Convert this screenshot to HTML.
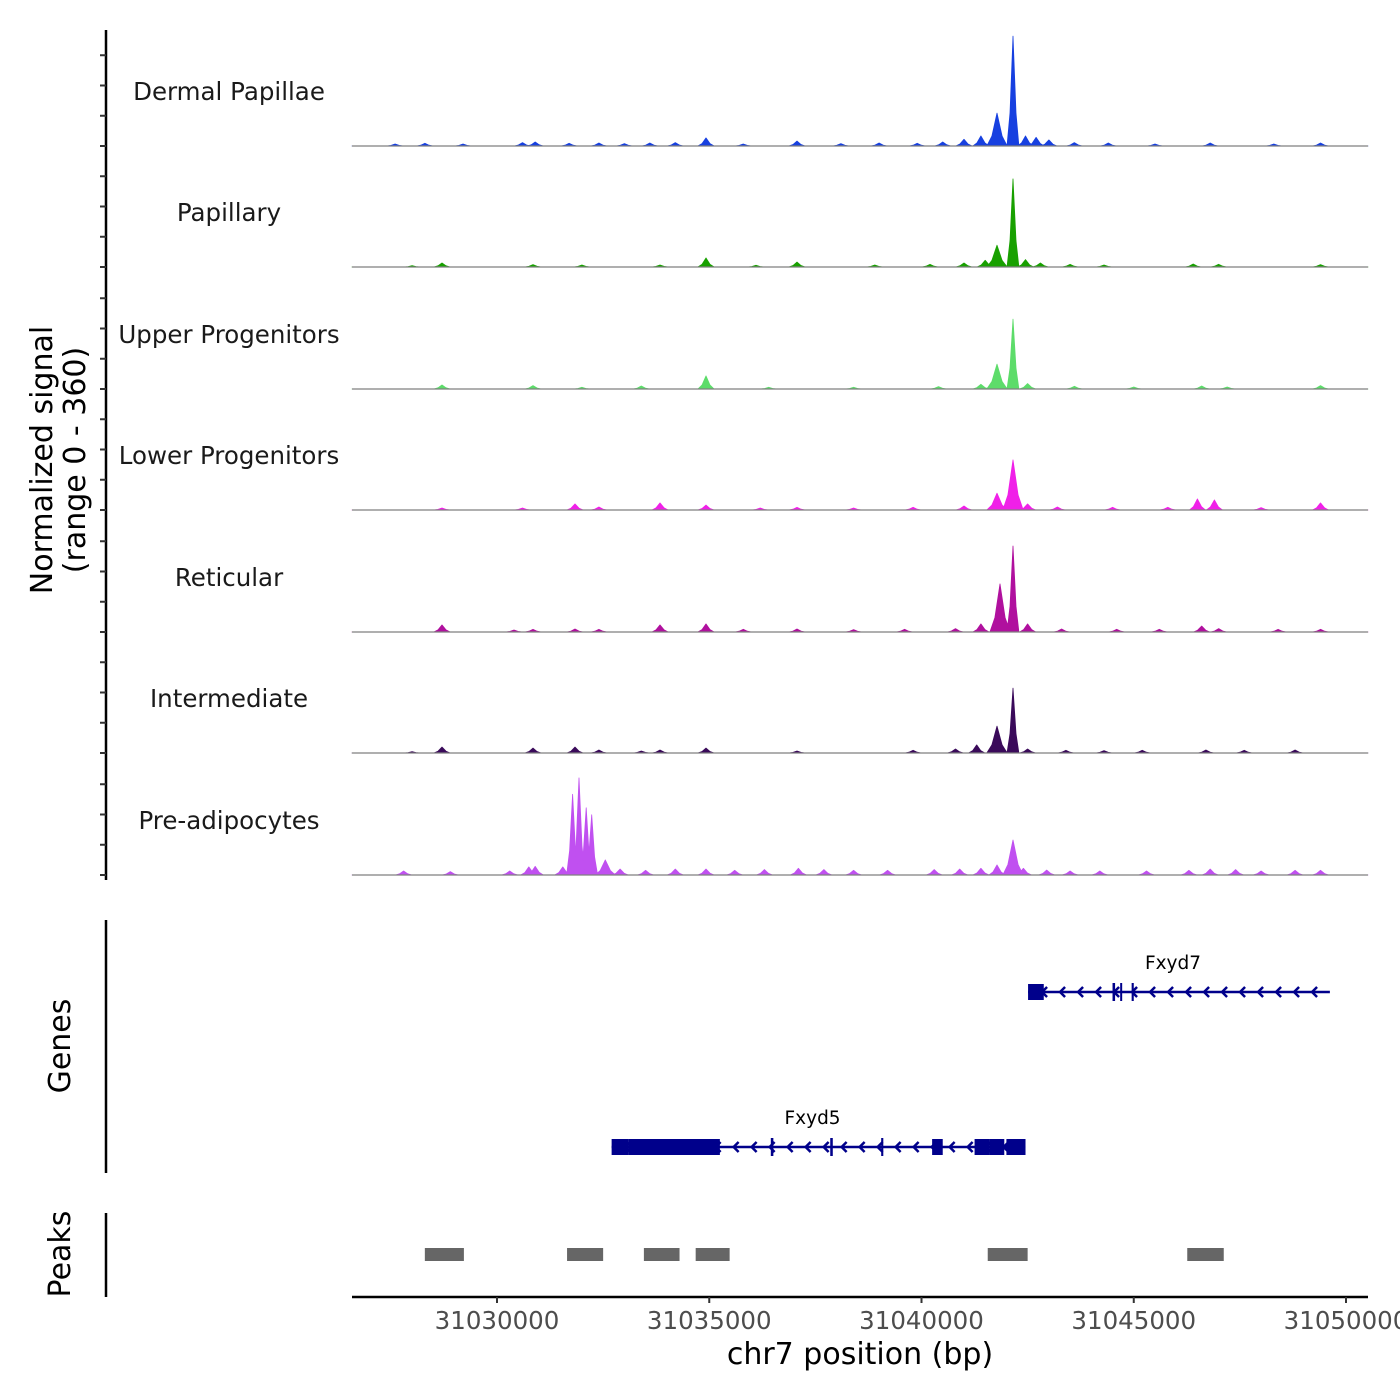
<!DOCTYPE html>
<html><head><meta charset="utf-8"><style>
html,body{margin:0;padding:0;background:#fff}
svg{display:block;font-family:"DejaVu Sans","Liberation Sans",sans-serif}
</style></head><body>
<svg id="chart" width="1400" height="1400" xmlns="http://www.w3.org/2000/svg"></svg>
<script>
// ---- data ----
const trackNames = ["Dermal Papillae","Papillary","Upper Progenitors","Lower Progenitors","Reticular","Intermediate","Pre-adipocytes"];
const trackColors = ["#1740e0","#18a000","#5ddc6a","#f020e8","#b0109e","#3a0a5a","#c050f0"];
// peak centres (bp), heights (normalized signal 0-360)
const dpPos = [31027600,31028300,31029200,31030600,31030900,31031700,31032400,31033000,31033600,31034200,31034923,31035800,31037067,31038100,31039000,31039900,31040500,31041000,31041400,31041779,31042155,31042450,31042700,31043000,31043600,31044400,31045500,31046800,31048300,31049400];
const dpVal = [6,8,6,10,12,8,9,7,9,10,24,6,15,7,9,8,12,20,30,98,327,30,26,18,10,9,6,9,6,9];
const paPos = [31028000,31028704,31030848,31032000,31033840,31034923,31036100,31037067,31038900,31040200,31041000,31041500,31041779,31042155,31042450,31042800,31043500,31044300,31046400,31047000,31049400];
const paVal = [4,12,7,6,6,27,5,15,6,8,12,20,65,262,22,12,8,6,9,8,7];
const upPos = [31028704,31030848,31032000,31033400,31034923,31036400,31038400,31040400,31041400,31041779,31042155,31042500,31043600,31045000,31046600,31047200,31049400];
const upVal = [12,10,5,9,39,5,5,7,14,74,208,16,8,6,9,6,10];
const loPos = [31028704,31030600,31031837,31032400,31033840,31034923,31036200,31037067,31038400,31039800,31041000,31041779,31042155,31042500,31043200,31044500,31045800,31046500,31046900,31048000,31049400];
const loVal = [6,6,18,9,21,15,6,8,6,8,12,50,149,18,9,8,8,33,30,7,21];
const rePos = [31028704,31030400,31030848,31031837,31032400,31033840,31034923,31035800,31037067,31038400,31039600,31040800,31041400,31041850,31042155,31042500,31043300,31044600,31045600,31046600,31047000,31048400,31049400];
const reVal = [21,6,8,9,8,21,24,8,9,7,8,10,24,143,256,24,9,8,8,18,10,8,8];
const inPos = [31028000,31028704,31030848,31031837,31032400,31033400,31033840,31034923,31037067,31039800,31040800,31041300,31041779,31042155,31042500,31043400,31044300,31045200,31046700,31047600,31048800];
const inVal = [4,18,15,18,9,6,9,15,6,8,12,24,80,193,12,8,7,8,9,8,9];
const prPos = [31027800,31028900,31030300,31030750,31030900,31031550,31031780,31031932,31032100,31032230,31032550,31032900,31033500,31034200,31034923,31035600,31036300,31037100,31037700,31038400,31039200,31040300,31040900,31041400,31041779,31042155,31042400,31042950,31043500,31044200,31045300,31046300,31046800,31047400,31048000,31048800,31049400];
const prVal = [12,10,12,24,26,24,240,289,200,179,45,18,14,18,18,14,16,20,16,14,14,16,18,20,30,104,20,15,12,12,12,14,18,16,12,14,14];
const trackPos = [dpPos,paPos,upPos,loPos,rePos,inPos,prPos];
const trackVal = [dpVal,paVal,upVal,loVal,reVal,inVal,prVal];
// genes
const geneNames = ["Fxyd7","Fxyd5"];
const geneStart = [31042510,31032700];
const geneEnd = [31049620,31042450];
const fxyd7ExonS = [31042510,31044500,31044680,31044950];
const fxyd7ExonE = [31042880,31044560,31044720,31045000];
const fxyd5ExonS = [31032700,31033100,31036450,31037850,31039050,31040250,31041250,31041600,31042000];
const fxyd5ExonE = [31033100,31035250,31036510,31037910,31039100,31040500,31041600,31041950,31042450];
// peaks
const peakStart = [31028300,31031650,31033460,31034680,31041560,31046260];
const peakEnd = [31029220,31032500,31034300,31035480,31042500,31047120];
// axis
const xTicks = [31030000,31035000,31040000,31045000,31050000];
const yMax = 360;

// ---- scales ----
const X0 = 352, X1 = 1368, BP0 = 31026584, BP1 = 31050518;
const xs = bp => X0 + (bp - BP0) / (BP1 - BP0) * (X1 - X0);
const baselines = [146,267,389,510,632,753,875];
const trackH = 121;
const ys = (v, base) => base - v / yMax * trackH;
const widthFor = v => v > 150 ? 140 : (v > 40 ? 240 : 190);

const NS = "http://www.w3.org/2000/svg";
const svg = document.getElementById("chart");
function mk(tag, attrs, parent) {
  const e = document.createElementNS(NS, tag);
  for (const k in attrs) e.setAttribute(k, attrs[k]);
  (parent || svg).appendChild(e);
  return e;
}
function txt(s, attrs, parent) { const t = mk("text", attrs, parent); t.textContent = s; return t; }

// y axis
const yaxis = mk("g", {});


mk("line", {x1:106,y1:30,x2:106,y2:880,stroke:"#000","stroke-width":2.5}, yaxis);
for (let i = 0; i < 7; i++) {
  for (let q = 0; q < 4; q++) {
    const y = baselines[i] - q * trackH / 4;
    if (y < 30) continue;
    const t = mk("line", {x1:100,y1:y,x2:106,y2:y,stroke:"#333","stroke-width":2}, yaxis);
    
    
  }
}
const yt = mk("text", {transform:"translate(52,460) rotate(-90)","text-anchor":"middle","font-size":30});


const ts1 = mk("tspan", {x:0,y:0}, yt); ts1.textContent = "Normalized signal";
const ts2 = mk("tspan", {x:0,y:33}, yt); ts2.textContent = "(range 0 - 360)";

// tracks
for (let i = 0; i < 7; i++) {
  const g = mk("g", {});
  
  
  const base = baselines[i];
  const lab = txt(trackNames[i], {x:229,y:base-46,"text-anchor":"middle","font-size":24.5,fill:"#1a1a1a"}, g);
  
  
  const pos = trackPos[i], val = trackVal[i];
  const sorted = pos.map((p, k) => [p, val[k]]).sort((a, b) => a[0] - b[0]);
  let d = "M" + X0 + "," + base;
  for (const [p, v] of sorted) {
    const w = widthFor(v);
    d += " L" + xs(p - w).toFixed(1) + "," + base +
         " L" + xs(p - w * 0.5).toFixed(1) + "," + ys(v * 0.3, base).toFixed(1) +
         " L" + xs(p).toFixed(1) + "," + ys(v, base).toFixed(1) +
         " L" + xs(p + w * 0.5).toFixed(1) + "," + ys(v * 0.3, base).toFixed(1) +
         " L" + xs(p + w).toFixed(1) + "," + base;
  }
  d += " L" + X1 + "," + base + " Z";
  const area = mk("path", {d:d, fill:trackColors[i], stroke:trackColors[i], "stroke-width":0.8, "stroke-linejoin":"round"}, g);
  
  
  const bl = mk("line", {x1:X0,y1:base,x2:X1,y2:base,stroke:"#7f7f7f","stroke-width":1.2}, g);
  
  
}

// genes panel
const gp = mk("g", {});


mk("line", {x1:106,y1:920,x2:106,y2:1173,stroke:"#000","stroke-width":2.5}, gp);
const gt = txt("Genes", {transform:"translate(70,1046) rotate(-90)","text-anchor":"middle","font-size":30}, gp);


const geneY = [992,1147];
const exS = [fxyd7ExonS, fxyd5ExonS], exE = [fxyd7ExonE, fxyd5ExonE];
for (let i = 0; i < 2; i++) {
  const g = mk("g", {}, gp);
  
  
  const y = geneY[i], a = xs(geneStart[i]), b = xs(geneEnd[i]);
  mk("line", {x1:a,y1:y,x2:b,y2:y,stroke:"#00008b","stroke-width":2.5}, g);
  for (let x = a + 14; x < b - 4; x += 18) {
    mk("path", {d:`M${x+5},${y-5} L${x},${y} L${x+5},${y+5}`,fill:"none",stroke:"#00008b","stroke-width":2.5}, g);
  }
  for (let k = 0; k < exS[i].length; k++) {
    const x1 = xs(exS[i][k]), x2 = xs(exE[i][k]);
    const thick = (x2 - x1) > 5;
    const e = mk("rect", {x:x1,y:y-(thick?8:9),width:Math.max(2,x2-x1),height:thick?16:18,fill:"#00008b"}, g);
    
    
  }
  const l = txt(geneNames[i], {x:(a+b)/2 - 6,y:y-23,"text-anchor":"middle","font-size":18.5,fill:"#000"}, g);
  
  
}

// peaks panel
const pp = mk("g", {});


mk("line", {x1:106,y1:1213,x2:106,y2:1297,stroke:"#000","stroke-width":2.5}, pp);
const pt = txt("Peaks", {transform:"translate(70,1254) rotate(-90)","text-anchor":"middle","font-size":30}, pp);


for (let k = 0; k < peakStart.length; k++) {
  const r = mk("rect", {x:xs(peakStart[k]),y:1248,width:xs(peakEnd[k])-xs(peakStart[k]),height:13,fill:"#666"}, pp);
  
  
}

// x axis
const xa = mk("g", {});


mk("line", {x1:X0,y1:1297,x2:X1,y2:1297,stroke:"#000","stroke-width":2.5}, xa);
for (const t of xTicks) {
  const x = xs(t);
  mk("line", {x1:x,y1:1297,x2:x,y2:1303,stroke:"#333","stroke-width":2}, xa);
  const l = txt(String(t), {x:x,y:1329,"text-anchor":"middle","font-size":24.5,fill:"#4d4d4d"}, xa);
  
  
}
const xt = txt("chr7 position (bp)", {x:860,y:1364,"text-anchor":"middle","font-size":30}, xa);


</script>
</body></html>
